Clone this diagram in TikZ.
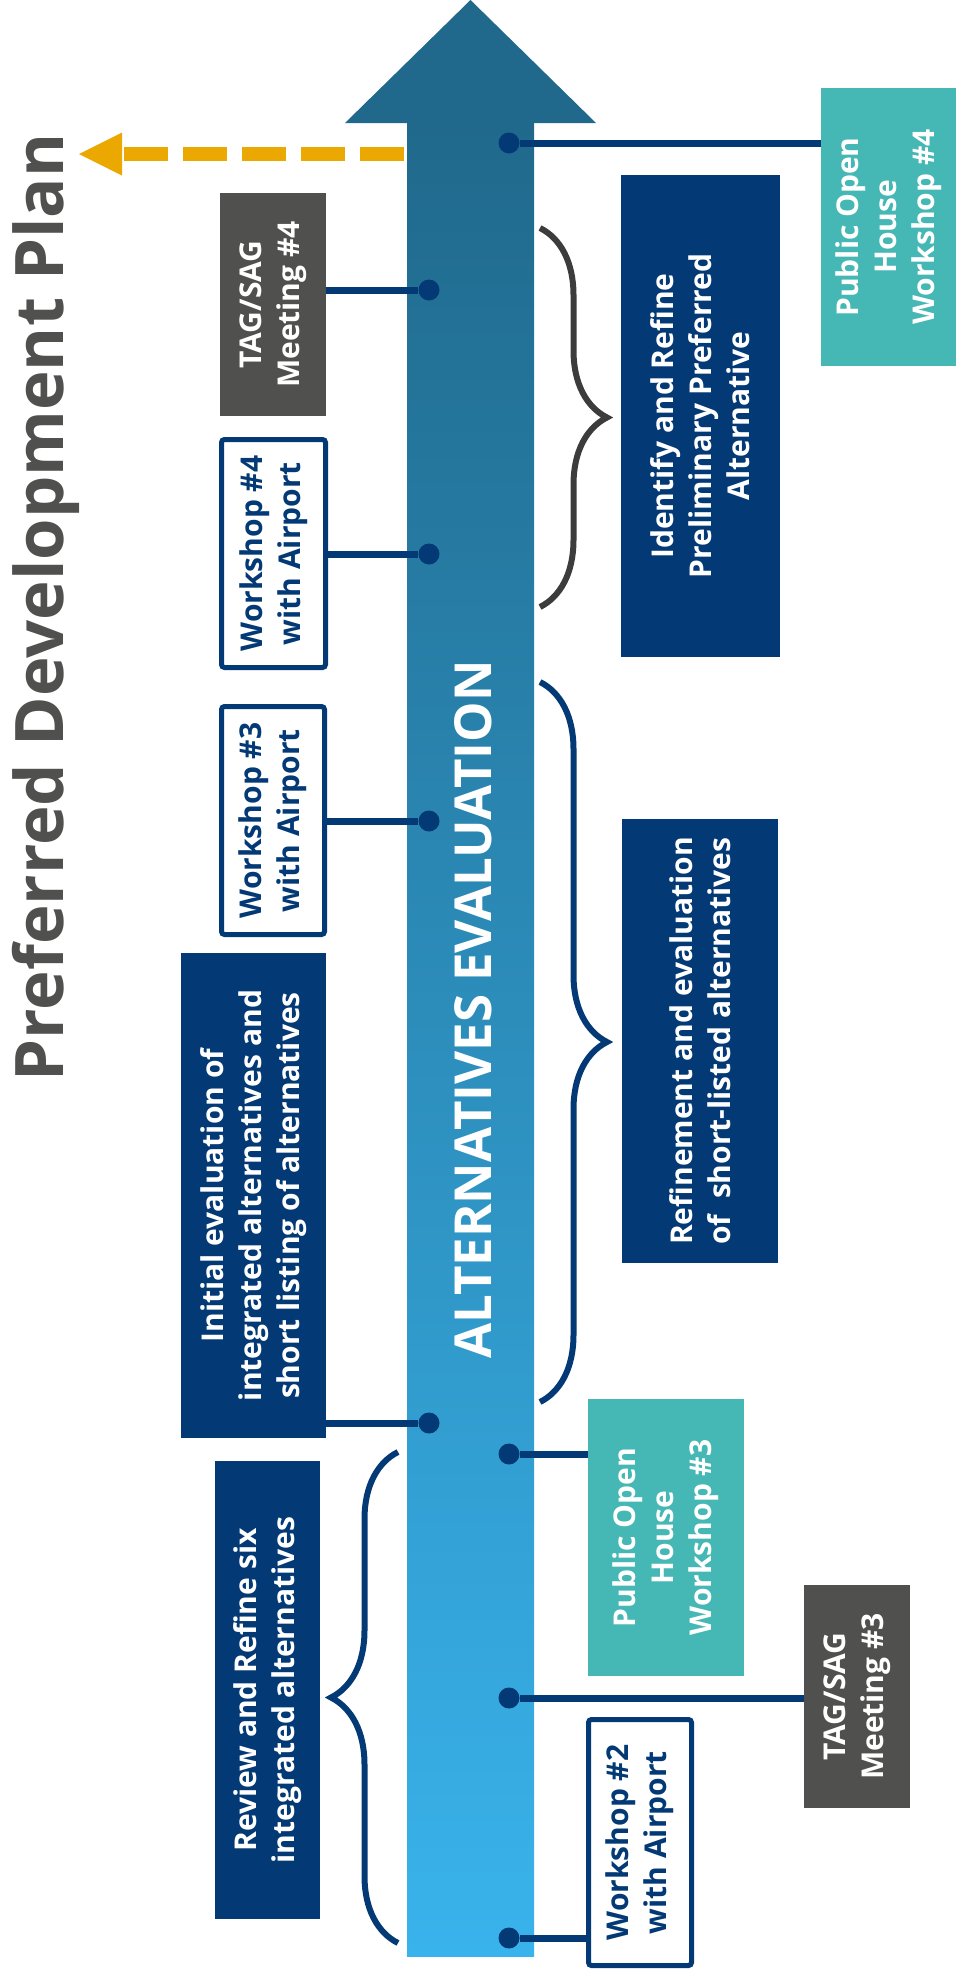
\documentclass[tikz,border=0pt]{standalone}
\usepackage{fontspec}
\setmainfont{Open Sans}
\usepackage{tikz}
\usetikzlibrary{positioning, arrows.meta, decorations.pathreplacing}
\definecolor{evnavy}{RGB}{3,57,117}
\definecolor{evteal}{RGB}{69,183,180}
\definecolor{evgray}{RGB}{80,81,79}
\definecolor{evorange}{RGB}{235,168,0}
\definecolor{bracegray}{RGB}{60,60,60}
\definecolor{arrowtop}{RGB}{32,105,140}
\definecolor{arrowbot}{RGB}{57,179,236}
\tikzset{
    navybox/.style={rectangle, rotate=90, fill=evnavy, text=white, align=center, inner sep=0pt, font=\fontsize{30}{38}\selectfont\bfseries},
    tealbox/.style={rectangle, rotate=90, fill=evteal, text=white, align=center, inner sep=0pt, font=\fontsize{30}{38}\selectfont\bfseries},
    graybox/.style={rectangle, rotate=90, fill=evgray, text=white, align=center, inner sep=0pt, font=\fontsize{30}{38}\selectfont\bfseries},
    airbox/.style={rectangle, rotate=90, draw=evnavy, line width=5pt, rounded corners=3pt, fill=white, text=evnavy, align=center, inner sep=0pt, font=\fontsize{30}{38}\selectfont\bfseries},
    tickdot/.style={circle, fill=evnavy, minimum size=21pt, inner sep=0pt},
    link/.style={evnavy, line width=7pt},
    phase/.style={decorate, decoration={brace, amplitude=67pt}, line width=6pt},
}

\begin{document}
\begin{tikzpicture}[x=1pt, y=-1pt]
    \useasboundingbox (0,0) rectangle (974,1978);
    % main arrow
    \shade[top color=arrowtop, bottom color=arrowbot] (407,123) rectangle (534,1956);
    \fill[arrowtop] (345,123) -- (470.5,0) -- (596,123) -- cycle;
    \node[rotate=90, anchor=base, inner sep=0pt, text=white, font=\fontsize{51}{61}\selectfont\bfseries] (alt) at (491,1009.5) {ALTERNATIVES EVALUATION};
    \node[rotate=90, anchor=base, inner sep=0pt, text=evgray, font=\fontsize{67}{80}\selectfont\bfseries] (plan) at (63,607.5) {Preferred Development Plan};
    \coordinate (exit) at (404,154);
    \coordinate (goal) at (79,154);
    \draw[evorange, line width=14pt, dash pattern=on 44pt off 15pt, -{Triangle[length=43pt, width=43pt, line width=0pt]}] (exit) -- (goal);

    % left side
    \node [graybox, minimum width=223pt, minimum height=106pt] (tag4) at (273,304.5) {TAG/SAG\\Meeting \#4};
    \node [airbox, minimum width=228pt, minimum height=104pt] (ws4) at (273.5,553.5) {Workshop \#4\\with Airport};
    \node [airbox, minimum width=228pt, minimum height=103pt] (ws3) at (273,820.5) {Workshop \#3\\with Airport};
    \node [navybox, minimum width=485pt, minimum height=145pt] (init) at (253.5,1195.5) {Initial evaluation of\\integrated alternatives and\\short listing of alternatives};
    \node [navybox, minimum width=458pt, minimum height=105pt] (review) at (267.5,1690) {Review and Refine six\\integrated alternatives};

    % right side
    \node [tealbox, minimum width=278pt, minimum height=135pt] (pub4) at (888.5,227) {Public Open\\House\\Workshop \#4};
    \node [navybox, minimum width=482pt, minimum height=159pt] (ident) at (700.5,416) {Identify and Refine\\Preliminary Preferred\\Alternative};
    \node [navybox, minimum width=444pt, minimum height=156pt] (refine) at (700,1041) {Refinement and evaluation\\of~ short-listed alternatives};
    \node [tealbox, minimum width=277pt, minimum height=156pt] (pub3) at (666,1537.5) {Public Open\\House\\Workshop \#3};
    \node [graybox, minimum width=223pt, minimum height=106pt] (tag3) at (857,1696.5) {TAG/SAG\\Meeting \#3};
    \node [airbox, minimum width=246pt, minimum height=103pt] (ws2) at (640,1842.5) {Workshop \#2\\with Airport};

    % dots on the arrow
    \node [tickdot] (tag4pt) at (429,290) {};
    \node [tickdot] (ws4pt) at (429,554) {};
    \node [tickdot] (ws3pt) at (429,821) {};
    \node [tickdot] (initpt) at (429,1423) {};
    \node [tickdot] (pub4pt) at (509,143) {};
    \node [tickdot] (pub3pt) at (509,1454) {};
    \node [tickdot] (tag3pt) at (509,1698) {};
    \node [tickdot] (ws2pt) at (509,1938) {};

    % rotated boxes: south is the right side, north the left side
    \draw[link] (tag4pt) -- (tag4pt -| tag4.south);
    \draw[link] (ws4pt) -- (ws4pt -| ws4.south);
    \draw[link] (ws3pt) -- (ws3pt -| ws3.south);
    \draw[link] (initpt) -- (initpt -| init.south);
    \draw[link] (pub4pt) -- (pub4pt -| pub4.north);
    \draw[link] (pub3pt) -- (pub3pt -| pub3.north);
    \draw[link] (tag3pt) -- (tag3pt -| tag3.north);
    \draw[link] (ws2pt) -- (ws2pt -| ws2.north);

    % braces
    \draw[phase, bracegray] (540,228) -- (540,607);
    \draw[phase, evnavy] (540,682) -- (540,1402);
    \draw[phase, evnavy] (398,1943) -- (398,1452);
\end{tikzpicture}
\end{document}
